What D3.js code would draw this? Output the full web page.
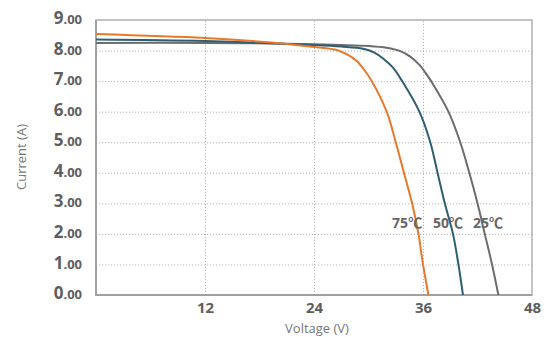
<!DOCTYPE html>
<html>
<head>
<meta charset="utf-8">
<script src="https://cdn.jsdelivr.net/npm/d3@7"></script>
<style>
body{margin:0;background:#fff}
text{font-family:"Open Sans",sans-serif}
.tick line{stroke:#b8b8b8;stroke-dasharray:1.2,1.8}
</style>
</head>
<body>
<svg id="chart"></svg>
<script>
// tick values
var voltTicks=[12,24,36,48]
var currTicks=[0,1,2,3,4,5,6,7,8,9]

// I-V curves (voltage V, current A)
var temps=["25","50","75"]
var v25=[0,12,24,30,32,33.5,34.6,35.6,36.4,37,38.8,40.1,41.1,42.0,42.8,43.6,44.3]
var i25=[8.25,8.25,8.21,8.15,8.09,7.98,7.8,7.53,7.22,6.95,6.0,5.0,4.0,3.0,2.0,1.0,0]
var v50=[0,12,24,27,29.4,30.6,31.6,32.7,33.7,35.6,36.8,37.6,38.4,39.3,39.9,40.4]
var i50=[8.36,8.31,8.18,8.13,8.06,7.94,7.74,7.44,7.0,6.0,5.0,4.0,3.0,2.0,1.0,0]
var v75=[0,12,19,24,26.5,27.6,28.7,29.5,30.4,32.0,33.0,33.9,34.8,35.5,36.0,36.6]
var i75=[8.54,8.41,8.27,8.12,8.02,7.88,7.66,7.38,6.98,6.0,5.0,4.0,3.0,2.0,1.0,0]
// where the temperature labels sit (voltage, current)
var labelV=[41.5,37.1,32.6]
var labelI=[2.2,2.2,2.2]

var colors=["#6c6c6c","#2e5e72","#e8782c"]

var screen={width:552,height:337}
var margins={left:96,right:20,top:20,bottom:42}
var graph={
    width:screen.width-margins.left-margins.right,
    height:screen.height-margins.top-margins.bottom
}

var svg=d3.select("#chart")
    .attr("width",screen.width)
    .attr("height",screen.height)

var target=svg.append("g")
    .attr("transform","translate("+margins.left+","+margins.top+")")

var xScale=d3.scaleLinear().domain([0,48]).range([0,graph.width])
var yScale=d3.scaleLinear().domain([0,9]).range([graph.height,0])

// dotted grid
target.append("g")
    .attr("class","grid")
    .attr("transform","translate(0,"+graph.height+")")
    .call(d3.axisBottom(xScale).tickValues(voltTicks.slice(0,3)).tickSize(-graph.height).tickFormat(""))
    .call(function(g){g.select(".domain").remove()})
target.append("g")
    .attr("class","grid")
    .call(d3.axisLeft(yScale).tickValues(currTicks.slice(1,9)).tickSize(-graph.width).tickFormat(""))
    .call(function(g){g.select(".domain").remove()})

// frame
target.append("rect")
    .attr("width",graph.width)
    .attr("height",graph.height)
    .attr("fill","none")
    .attr("stroke","#b0b0b0")
    .attr("stroke-width",1.5)
target.append("path")
    .attr("d","M0,0V"+graph.height+"H"+graph.width)
    .attr("fill","none")
    .attr("stroke","#a0a0a0")
    .attr("stroke-width",2)

// curves
var line=d3.line()
    .x(function(d){return xScale(d[0])})
    .y(function(d){return yScale(d[1])})
    .curve(d3.curveCatmullRom.alpha(0.5))

var series=[d3.zip(v25,i25),d3.zip(v50,i50),d3.zip(v75,i75)]
target.selectAll(".curve")
    .data(series)
    .enter()
    .append("path")
    .attr("class","curve")
    .attr("d",line)
    .attr("fill","none")
    .attr("stroke",function(d,i){return colors[i]})
    .attr("stroke-width",2)

// y axis labels
var yAxis=target.append("g")
    .call(d3.axisLeft(yScale).tickValues(currTicks).tickSize(0).tickPadding(14))
yAxis.select(".domain").remove()
yAxis.selectAll("text").each(function(d){
    var t=d3.select(this).text("")
        .attr("fill","#5e5e5e")
        .attr("font-weight","bold")
        .attr("dy","0.36em")
    t.append("tspan").attr("font-size","17px").text(d)
    t.append("tspan").attr("font-size","13px").text(".00")
})

// x axis labels
var xAxis=target.append("g")
    .attr("transform","translate(0,"+graph.height+")")
    .call(d3.axisBottom(xScale).tickValues(voltTicks).tickSize(0).tickPadding(7))
xAxis.select(".domain").remove()
xAxis.selectAll("text")
    .attr("fill","#5e5e5e")
    .attr("font-weight","bold")
    .attr("font-size","15px")

// temperature labels
var temp=target.selectAll(".temp")
    .data(temps)
    .enter()
    .append("text")
    .attr("class","temp")
    .attr("x",function(d,i){return xScale(labelV[i])})
    .attr("y",function(d,i){return yScale(labelI[i])})
    .attr("fill","#666")
    .attr("font-weight","bold")
    .attr("font-size","14px")
temp.append("tspan").text(function(d){return d})
temp.append("tspan")
    .attr("font-family","'Noto Sans CJK SC'")
    .text("℃")

// axis titles
svg.append("text")
    .text("Voltage (V)")
    .attr("text-anchor","middle")
    .attr("x",317)
    .attr("y",333)
    .attr("fill","#777")
    .attr("font-size","13px")
svg.append("g")
    .attr("transform","translate(26,157)")
    .append("text")
    .text("Current (A)")
    .attr("text-anchor","middle")
    .attr("transform","rotate(-90)")
    .attr("fill","#777")
    .attr("font-size","13px")
</script>
</body>
</html>
